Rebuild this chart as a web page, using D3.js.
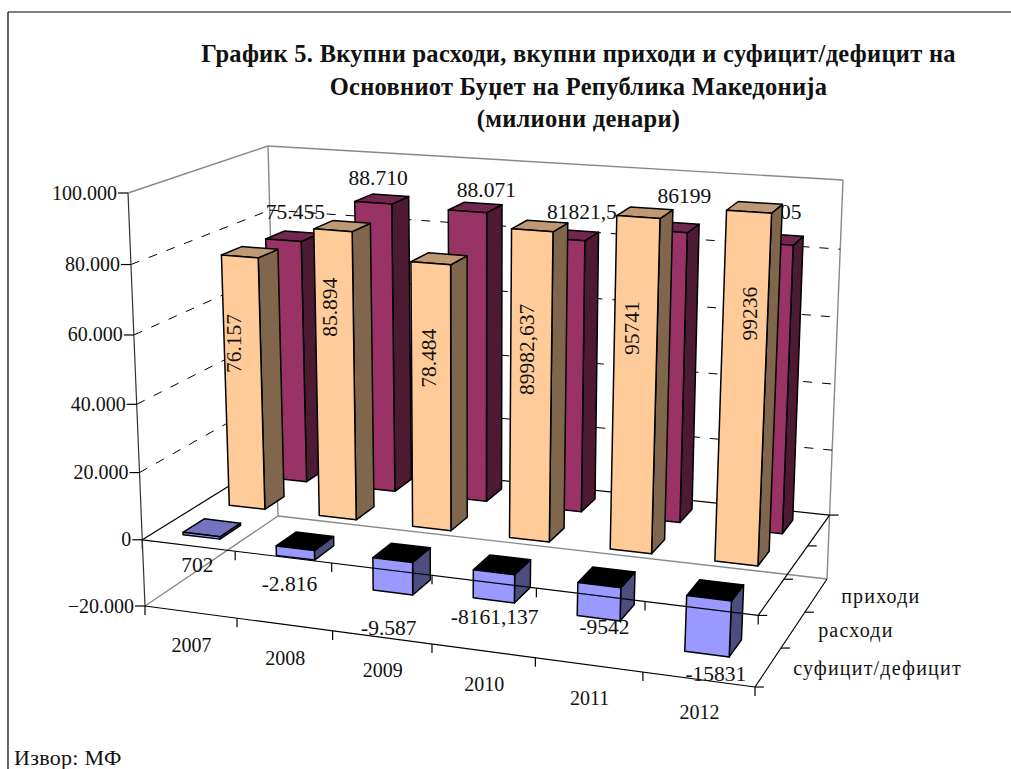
<!DOCTYPE html>
<html><head><meta charset="utf-8">
<script src="https://cdn.jsdelivr.net/npm/d3@7"></script>
<style>html,body{margin:0;padding:0;background:#fff}svg{display:block}text{font-family:"Liberation Serif",serif;fill:#111}</style>
</head><body><div id="c"></div>
<script>
const categories=["2007","2008","2009","2010","2011","2012"];
const seriesNames=["суфицит/дефицит","расходи","приходи"];
const balanceValues=[702,-2816,-9587,-8161.137,-9542,-15831];
const expenseValues=[76157,85894,78484,89982.637,95741,99236];
const revenueValues=[75455,88710,88071,81821.5,86199,84705];
const balanceLabels=["702","-2.816","-9.587","-8161,137","-9542","-15831"];
const expenseLabels=["76.157","85.894","78.484","89982,637","95741","99236"];
const revenueLabels=["75.455","88.710","88.071","81821,5","86199","84705"];
const valueTicks=[-20000,0,20000,40000,60000,80000,100000];
const titleLines=["График 5. Вкупни расходи, вкупни приходи и суфицит/дефицит на","Основниот Буџет на Република Македонија","(милиони денари)"];

// layout: nudges of the data labels from the bar's top-front centre
const balanceNudge=[[-4,30],[-6,26],[-4,35],[1,17],[6,9],[9,20]];
const expenseNudge=[[-6,87],[-3,77],[-2,95],[-5,119],[-6,111],[1,102]];
const revenueNudge=[[12,-28],[5,-25],[19,-21],[17,-27],[18,-35],[3,-32]];

const W=1011,H=769;
const svg=d3.select("#c").append("svg").attr("width",W).attr("height",H);
const U=d3.scaleBand().domain(categories).range([0,1]).paddingInner(.6).paddingOuter(.3);
const Wz=d3.scaleBand().domain(seriesNames).range([0,1]).paddingInner(.55).paddingOuter(.275);
const V=d3.scaleLinear().domain([-20000,100000]).range([0,1]);
// box corners [u][w][v]: pixel x, pixel y, depth
const C={
 "000":[145,606,.968],"001":[128,193,.924],
 "100":[755,687,.86],"101":[775,240,.82],
 "010":[278,516,1.081],"011":[268,146,1.032],
 "110":[827,579,.97],"111":[843,180,.925]};
function P(u,w,v){let X=0,Y=0,Z=0;
 for(const a of[0,1])for(const b of[0,1])for(const c of[0,1]){
  const t=(a?u:1-u)*(b?w:1-w)*(c?v:1-v),k=C[""+a+b+c];
  X+=t*k[0]*k[2];Y+=t*k[1]*k[2];Z+=t*k[2];}
 return[X/Z,Y/Z];}
const line=d3.line();
function seg(a,b,col,wd,dash){svg.append("path").attr("d",line([a,b])).attr("fill","none").attr("stroke",col).attr("stroke-width",wd).attr("stroke-dasharray",dash||null);}
const gray="#888";
seg(P(0,0,1),P(0,1,1),gray,1.4);seg(P(0,1,1),P(1,1,1),gray,1.4);seg(P(1,1,1),P(1,1,0),gray,1.4);
seg(P(0,1,1),P(0,1,0),gray,1.4);seg(P(0,0,0),P(0,1,0),gray,1.4);seg(P(0,1,0),P(1,1,0),gray,1.4);seg(P(1,0,0),P(1,1,0),"#000",1.2);
valueTicks.slice(2,6).forEach(t=>{const v=V(t);
 seg(P(0,0,v),P(0,1,v),"#000",1,"9 10");seg(P(0,1,v),P(1,1,v),"#000",1,"9 10");});
const v0=V(0);
seg(P(0,0,v0),P(0,1,v0),"#000",1.2);seg(P(0,1,v0),P(1,1,v0),"#000",1.2);seg(P(1,0,v0),P(1,1,v0),"#000",1.2);

const colors={"суфицит/дефицит":{f:"#9999ff",s:"#4d4d80",t:"#7373bf"},"расходи":{f:"#ffcc99",s:"#80664d",t:"#bf9973"},"приходи":{f:"#993366",s:"#4d1a33",t:"#732650"}};
const rows=[[seriesNames[2],revenueValues,revenueLabels,revenueNudge,0],
            [seriesNames[1],expenseValues,expenseLabels,expenseNudge,-90],
            [seriesNames[0],balanceValues,balanceLabels,balanceNudge,0]];
const lateLabels=[];
rows.forEach(([name,vals,labs,nudge,rot])=>{
 const w0=Wz(name),w1=w0+Wz.bandwidth(),c=colors[name];
 const labelAt=(i)=>{const p=P(U(categories[i])+U.bandwidth()/2,w0,V(vals[i]));return[p[0]+nudge[i][0],p[1]+nudge[i][1]];};
 const putLabel=(i)=>{const[x,y]=labelAt(i);
   svg.append("text").attr("text-anchor","middle").attr("dominant-baseline","central").attr("font-size",21.5)
     .attr("transform",`translate(${x},${y}) rotate(${rot})`).text(labs[i]);};
 if(name===seriesNames[2]) categories.forEach((_,i)=>putLabel(i));
 const g2=svg.append("g");
 categories.forEach((cat,i)=>{
  const u0=U(cat),u1=u0+U.bandwidth(),a=V(0),b=V(vals[i]),hi=Math.max(a,b),lo=Math.min(a,b);
  const face=(pts,fill)=>g2.append("path").attr("d",line(pts)+"Z").attr("fill",fill).attr("stroke","#000").attr("stroke-width",1.5).attr("stroke-linejoin","round");
  face([P(u1,w0,lo),P(u1,w1,lo),P(u1,w1,hi),P(u1,w0,hi)],c.s);
  face([P(u0,w0,hi),P(u1,w0,hi),P(u1,w1,hi),P(u0,w1,hi)],vals[i]<0?"#000":c.t);
  face([P(u0,w0,lo),P(u1,w0,lo),P(u1,w0,hi),P(u0,w0,hi)],c.f);
 });
 if(name!==seriesNames[2]) categories.forEach((_,i)=>lateLabels.push(()=>putLabel(i)));
});
const fmt=d3.formatLocale({thousands:".",grouping:[3],decimal:",",currency:["",""]}).format(",");
[v0,0].forEach(v=>{seg(P(0,0,v),P(1,0,v),"#000",1.2);
 d3.range(0,7).forEach(i=>{const u=i/6,p=P(u,0,v);seg(p,[p[0],p[1]+9],"#000",1.2);});});
seg(P(0,0,0),P(0,0,1),"#333",1.2);
valueTicks.forEach(t=>{const p=P(0,0,V(t));seg([p[0]-10,p[1]],p,"#000",1.2);
 svg.append("text").attr("x",p[0]-11).attr("y",p[1]+6.5).attr("text-anchor","end").attr("font-size",20).text(fmt(t));});
[[v0,[0,1/3,2/3,1]],[0,[0,1/3,2/3]]].forEach(([v,ws])=>ws.forEach(w=>{const p=P(1,w,v);seg(p,[p[0]+9,p[1]],"#000",1.2);}));
categories.forEach(c=>{const p=P(U(c)+U.bandwidth()/2,0,0);svg.append("text").attr("x",p[0]+1).attr("y",p[1]+40).attr("text-anchor","middle").attr("font-size",20).text(c);});
seriesNames.forEach((s,i)=>{const p=P(1,(i+.5)/3,0);svg.append("text").attr("x",p[0]+25).attr("y",p[1]+7.5).attr("font-size",20).attr("letter-spacing",1.2).text(s);});
lateLabels.forEach(f=>f());
const titleY=[62,95,127];
titleLines.forEach((t,i)=>svg.append("text").attr("x",578.5).attr("y",titleY[i]).attr("text-anchor","middle").attr("font-size",24.5).attr("letter-spacing",.28).attr("font-weight","bold").text(t));
svg.append("text").attr("x",14).attr("y",765).attr("font-size",22).attr("letter-spacing",.3).text("Извор: МФ");
seg([8,12],[1011,12],"#000",1.2);seg([8,12],[8,769],"#000",1.2);
</script></body></html>
